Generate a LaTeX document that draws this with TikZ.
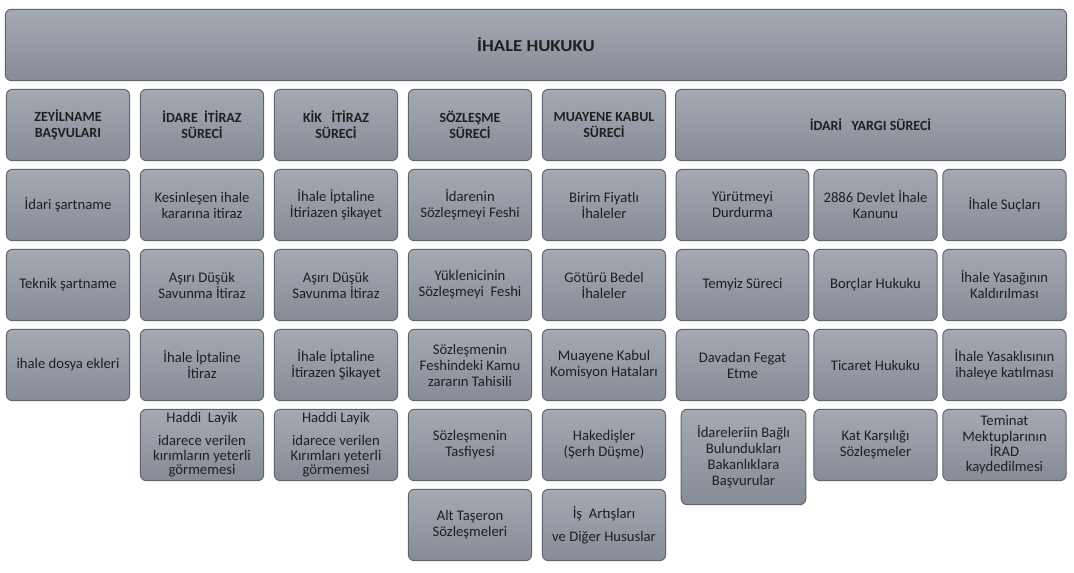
\documentclass[tikz,border=0pt]{standalone}
\usepackage{fontspec}
\setmainfont{Carlito}
\newfontfamily\titlefont[FakeStretch=1.12]{Carlito}
\usepackage{tikz}

\definecolor{boxtop}{HTML}{A5A9B2}
\definecolor{boxbot}{HTML}{868B96}
\definecolor{boxline}{HTML}{5E636C}

\begin{document}
\begin{tikzpicture}[x=0.75pt, y=-0.75pt,
    box/.style={draw=boxline, line width=0.7pt, rounded corners=4.5pt,
      top color=boxtop, bottom color=boxbot, align=center, text=black!88,
      font=\fontsize{11}{12}\selectfont, inner sep=1pt,
      minimum width=92.5pt, minimum height=53.5pt},
    head/.style={box, font=\bfseries\fontsize{10.5}{12}\selectfont}]

    \useasboundingbox (0,0) rectangle (1074,573);

    \node[head, minimum width=796pt, font=\titlefont\bfseries\fontsize{12.5}{14}\selectfont] (hk) at (536, 45) {İHALE HUKUKU};

    \node[head] (zb) at (68, 125) {ZEYİLNAME\\BAŞVULARI};
    \node[head] (ii) at (202, 125) {İDARE\ \ İTİRAZ\\SÜRECİ};
    \node[head] (ki) at (336, 125) {KİK\ \ \ İTİRAZ\\SÜRECİ};
    \node[head] (ss) at (470, 125) {SÖZLEŞME\\SÜRECİ};
    \node[head] (mk) at (604, 125) {MUAYENE KABUL\\SÜRECİ};
    \node[head, minimum width=292.5pt] (iy) at (870.5, 125) {İDARİ\ \ \ YARGI SÜRECİ};

    \node[box] (zb1) at (68, 205) {İdari şartname};
    \node[box] (zb2) at (68, 285) {Teknik şartname};
    \node[box] (zb3) at (68, 365) {ihale dosya ekleri};

    \node[box] (ii1) at (202, 205) {Kesinleşen ihale\\kararına itiraz};
    \node[box] (ii2) at (202, 285) {Aşırı Düşük\\Savunma İtiraz};
    \node[box] (ii3) at (202, 365) {İhale İptaline\\İtiraz};
    \node[box, font=\fontsize{11}{11}\selectfont] (ii4) at (202, 445) {Haddi\ \ Layik\\[6pt]idarece verilen\\kırımların yeterli\\görmemesi};

    \node[box] (ki1) at (336, 205) {İhale İptaline\\İtiriazen şikayet};
    \node[box] (ki2) at (336, 285) {Aşırı Düşük\\Savunma İtiraz};
    \node[box] (ki3) at (336, 365) {İhale İptaline\\İtirazen Şikayet};
    \node[box, font=\fontsize{11}{11}\selectfont] (ki4) at (336, 445) {Haddi Layik\\[6pt]idarece verilen\\Kırımları yeterli\\görmemesi};

    \node[box] (ss1) at (470, 205) {İdarenin\\Sözleşmeyi Feshi};
    \node[box] (ss2) at (470, 285) {Yüklenicinin\\Sözleşmeyi\ \ Feshi};
    \node[box] (ss3) at (470, 365) {Sözleşmenin\\Feshindeki Kamu\\zararın Tahisili};
    \node[box] (ss4) at (470, 445) {Sözleşmenin\\Tasfiyesi};
    \node[box] (ss5) at (470, 525) {Alt Taşeron\\Sözleşmeleri};

    \node[box] (mk1) at (604, 205) {Birim Fiyatlı\\İhaleler};
    \node[box] (mk2) at (604, 285) {Götürü Bedel\\İhaleler};
    \node[box] (mk3) at (604, 365) {Muayene Kabul\\Komisyon Hataları};
    \node[box] (mk4) at (604, 445) {Hakedişler\\(Şerh Düşme)};
    \node[box] (mk5) at (604, 525) {İş\ \ Artışları\\[5pt]ve Diğer Hususlar};

    \node[box, minimum width=99.5pt] (iy1) at (742.5, 205) {Yürütmeyi\\Durdurma};
    \node[box, minimum width=99.5pt] (iy2) at (742.5, 285) {Temyiz Süreci};
    \node[box, minimum width=99.5pt] (iy3) at (742.5, 365) {Davadan Fegat\\Etme};
    \node[box, minimum width=93.5pt, minimum height=71.5pt] (iy4) at (743.5, 457) {İdareleriin Bağlı\\Bulundukları\\Bakanlıklara\\Başvurular};

    \node[box] (iy5) at (875.5, 205) {2886 Devlet İhale\\Kanunu};
    \node[box] (iy6) at (875.5, 285) {Borçlar Hukuku};
    \node[box] (iy7) at (875.5, 365) {Ticaret Hukuku};
    \node[box] (iy8) at (875.5, 445) {Kat Karşılığı\\Sözleşmeler};

    \node[box] (iy9) at (1004.5, 205) {İhale Suçları};
    \node[box] (iy10) at (1004.5, 285) {İhale Yasağının\\Kaldırılması};
    \node[box] (iy11) at (1004.5, 365) {İhale Yasaklısının\\ihaleye katılması};
    \node[box, font=\fontsize{11}{11.5}\selectfont] (iy12) at (1004.5, 445) {Teminat\\Mektuplarının\\İRAD\\kaydedilmesi};

\end{tikzpicture}
\end{document}
